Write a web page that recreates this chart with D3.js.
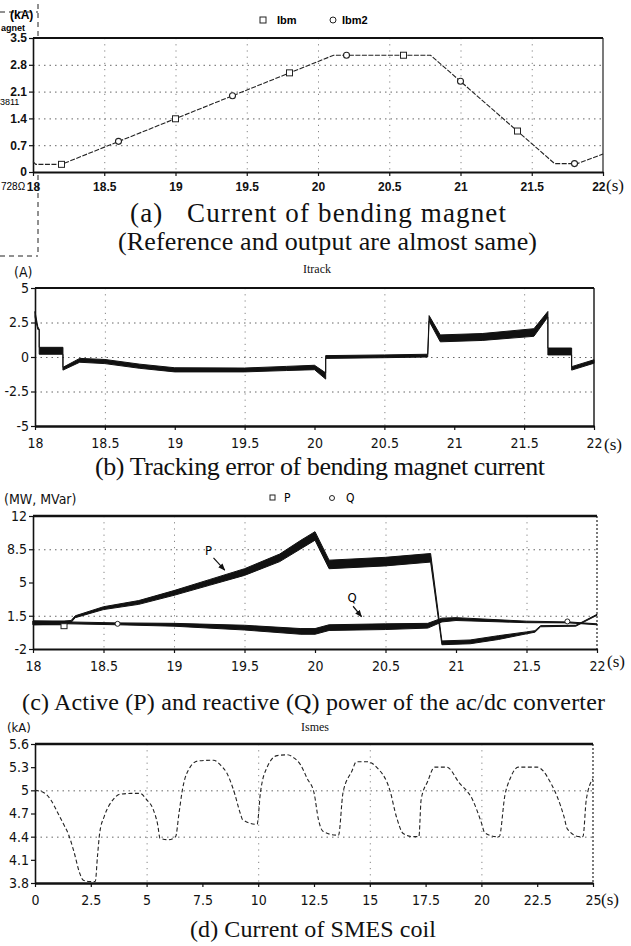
<!DOCTYPE html>
<html>
<head>
<meta charset="utf-8">
<script src="https://cdn.jsdelivr.net/npm/d3@7"></script>
<style>
  html, body { margin: 0; padding: 0; background: #fff; }
  svg { display: block; }
</style>
</head>
<body>
<script>
// ---------------- DATA ----------------
// (a) Current of bending magnet (kA)
const ibmT   = [18.0, 18.02, 18.2, 20.11, 20.79, 21.66, 21.82, 22.0];
const ibmV   = [0.27, 0.2, 0.2, 3.05, 3.05, 0.22, 0.22, 0.47];
const ibmSquareT = [18.2, 19.0, 19.8, 20.6, 21.4];
const ibmSquareV = [0.2, 1.39, 2.59, 3.05, 1.07];
const ibm2CircleT = [18.6, 19.4, 20.2, 21.0, 21.8];
const ibm2CircleV = [0.8, 1.99, 3.05, 2.37, 0.22];
const aXTicks = [18, 18.5, 19, 19.5, 20, 20.5, 21, 21.5, 22];
const aYTicks = [0, 0.7, 1.4, 2.1, 2.8, 3.5];

// (b) Tracking error Itrack (A): band lower / upper
const itrT  = [18.0, 18.02, 18.03, 18.03, 18.2, 18.2, 18.32, 18.5, 18.75, 19.0, 19.5, 19.8, 20.0, 20.08, 20.08, 20.5, 20.81, 20.82, 20.9, 21.2, 21.57, 21.67, 21.67, 21.84, 21.84, 22.0];
const itrHi = [3.3, 2.2, 2.0, 0.7, 0.7, -0.75, -0.1, -0.18, -0.52, -0.78, -0.8, -0.68, -0.6, -1.15, 0.1, 0.15, 0.2, 3.0, 1.6, 1.7, 2.05, 3.3, 0.65, 0.65, -0.7, -0.2];
const itrLo = [2.9, 2.0, 2.0, 0.2, 0.2, -0.95, -0.38, -0.48, -0.82, -1.08, -1.08, -0.98, -0.92, -1.6, -0.1, -0.05, 0.0, 2.6, 1.1, 1.2, 1.5, 2.9, 0.15, 0.15, -0.95, -0.45];
const bXTicks = [18, 18.5, 19, 19.5, 20, 20.5, 21, 21.5, 22];
const bYTicks = [-5, -2.5, 0, 2.5, 5];

// (c) Active (P) and reactive (Q) power (MW, MVar): centre and half-width of band
const pT    = [18.0, 18.22, 18.27, 18.3, 18.5, 18.75, 19.0, 19.25, 19.5, 19.75, 19.9, 20.0, 20.1, 20.5, 20.82, 20.9, 21.1, 21.3, 21.5, 21.56, 21.6, 21.85, 22.0];
const pMid  = [0.75, 0.75, 0.9, 1.4, 2.3, 2.9, 3.9, 5.0, 6.1, 7.6, 9.0, 9.9, 6.9, 7.2, 7.6, -1.35, -1.25, -0.8, -0.3, -0.15, 0.4, 0.45, 1.6];
const pHalf = [0.2, 0.2, 0.1, 0.1, 0.15, 0.2, 0.25, 0.3, 0.35, 0.4, 0.45, 0.45, 0.45, 0.45, 0.45, 0.2, 0.2, 0.2, 0.1, 0.08, 0.06, 0.05, 0.05];
const qT    = [18.0, 18.25, 18.6, 19.0, 19.5, 19.9, 20.0, 20.1, 20.5, 20.8, 20.9, 21.0, 21.5, 21.8, 22.0];
const qMid  = [0.75, 0.75, 0.65, 0.55, 0.25, -0.15, -0.15, 0.25, 0.35, 0.45, 1.05, 1.15, 0.85, 0.8, 0.6];
const qHalf = [0.2, 0.1, 0.1, 0.15, 0.25, 0.3, 0.3, 0.3, 0.3, 0.25, 0.2, 0.15, 0.08, 0.05, 0.05];
const cXTicks = [18, 18.5, 19, 19.5, 20, 20.5, 21, 21.5, 22];
const cYTicks = [-2, 1.5, 5, 8.5, 12];

// (d) Current of SMES coil Ismes (kA)
const smesT = [0, 0.4, 0.7, 1.0, 1.3, 1.5, 1.75, 2.0, 2.15, 2.4, 2.7, 2.8, 2.9, 3.1, 3.5, 3.8, 4.3, 4.7, 5.0, 5.3, 5.5, 5.6, 6.0, 6.3, 6.45, 6.6, 6.95, 7.3, 8.0, 8.3, 8.6, 8.9, 9.2, 9.3, 9.95, 10.1, 10.4, 10.85, 11.3, 11.6, 11.9, 12.2, 12.5, 12.7, 12.9, 13.5, 13.6, 13.8, 14.2, 14.4, 14.9, 15.3, 15.9, 16.2, 16.5, 16.95, 17.2, 17.3, 17.6, 17.9, 18.45, 19.0, 19.6, 20.0, 20.15, 20.7, 20.8, 21.05, 21.3, 21.65, 22.5, 23.1, 23.7, 23.85, 24.4, 24.55, 24.7, 25.0];
const smesV = [5.0, 4.97, 4.88, 4.72, 4.55, 4.43, 4.2, 3.93, 3.84, 3.82, 3.82, 4.15, 4.45, 4.66, 4.88, 4.95, 4.96, 4.96, 4.88, 4.75, 4.55, 4.38, 4.36, 4.4, 4.7, 5.0, 5.3, 5.38, 5.39, 5.33, 5.22, 5.0, 4.7, 4.62, 4.56, 4.97, 5.3, 5.45, 5.46, 5.42, 5.33, 5.15, 4.97, 4.62, 4.47, 4.42, 4.42, 4.97, 5.25, 5.37, 5.37, 5.3, 5.0, 4.65, 4.44, 4.4, 4.4, 4.88, 5.12, 5.3, 5.3, 5.1, 4.88, 4.58, 4.45, 4.4, 4.4, 4.93, 5.16, 5.3, 5.3, 5.1, 4.66, 4.5, 4.4, 4.4, 4.88, 5.15];
const dXTicks = [0, 2.5, 5, 7.5, 10, 12.5, 15, 17.5, 20, 22.5, 25];
const dYTicks = [3.8, 4.1, 4.4, 4.7, 5, 5.3, 5.6];

// ---------------- DRAW ----------------
const W = 631, H = 946;
const svg = d3.select("body").append("svg").attr("width", W).attr("height", H)
  .style("background", "#fff");

const SERIF = "'Liberation Serif','Times New Roman',serif";
const ARIALB = "'Liberation Sans',Arial,sans-serif";
const NARROW = "'Liberation Sans Narrow','DejaVu Sans Condensed','Arial Narrow',sans-serif";

function caption(x, y, size, len, txt) {
  svg.append("text").attr("x", x).attr("y", y).attr("font-family", SERIF)
    .attr("font-size", size).attr("fill", "#111").style("white-space", "pre")
    .attr("textLength", len).attr("lengthAdjust", "spacing").text(txt);
}

function drawPanel(p) {
  const g = svg.append("g");
  const x = d3.scaleLinear().domain(p.xDomain).range([p.left, p.right]);
  const y = d3.scaleLinear().domain(p.yDomain).range([p.bottom, p.top]);
  g.append("rect").attr("x", p.left).attr("y", p.top)
    .attr("width", p.right - p.left).attr("height", p.bottom - p.top).attr("fill", "#fff");
  g.selectAll(null).data(p.hGrid).join("line")
    .attr("x1", p.left).attr("x2", p.right)
    .attr("y1", d => y(d) + 0.5).attr("y2", d => y(d) + 0.5)
    .attr("stroke", "#555").attr("stroke-width", 0.9).attr("stroke-dasharray", "1.5,4");
  g.selectAll(null).data(p.vGrid).join("line")
    .attr("y1", p.top).attr("y2", p.bottom)
    .attr("x1", d => x(d) + 0.5).attr("x2", d => x(d) + 0.5)
    .attr("stroke", "#777").attr("stroke-width", 0.9).attr("stroke-dasharray", "1.2,5");
  g.append("line").attr("x1", p.right).attr("x2", p.right).attr("y1", p.top).attr("y2", p.bottom)
    .attr("stroke", "#222").attr("stroke-width", p.rightW)
    .attr("stroke-dasharray", p.rightDash || null);
  g.append("line").attr("x1", p.left).attr("x2", p.right).attr("y1", p.top).attr("y2", p.top)
    .attr("stroke", "#111").attr("stroke-width", p.topW);
  const ax = d3.axisBottom(x).tickValues(p.xTicks).tickSize(4).tickSizeOuter(0).tickPadding(p.xPad)
    .tickFormat(d => String(d));
  const gx = g.append("g").attr("transform", `translate(0,${p.bottom})`).call(ax);
  gx.select(".domain").attr("stroke", "#111").attr("stroke-width", p.bottomW);
  gx.selectAll(".tick line").attr("stroke", "#111").attr("stroke-width", 1.2);
  gx.selectAll(".tick text").attr("font-family", p.tickFont).attr("font-size", p.tickSize)
    .attr("font-weight", p.tickWeight).attr("fill", "#111");
  if (p.lastEnd) {
    gx.selectAll(".tick text").filter(d => d === p.xDomain[1]).attr("text-anchor", "end").attr("dx", 2);
  }
  const ay = d3.axisLeft(y).tickValues(p.yTicks).tickSize(4).tickSizeOuter(0).tickPadding(2)
    .tickFormat(d => String(d));
  const gy = g.append("g").attr("transform", `translate(${p.left},0)`).call(ay);
  gy.select(".domain").attr("stroke", "#111").attr("stroke-width", 1.6);
  gy.selectAll(".tick line").attr("stroke", "#111").attr("stroke-width", 1.2);
  gy.selectAll(".tick text").attr("font-family", p.tickFont).attr("font-size", p.tickSize)
    .attr("font-weight", p.tickWeight).attr("fill", "#111");
  g.append("text").attr("x", p.right + p.sDx).attr("y", p.bottom + p.sDy)
    .attr("font-family", SERIF).attr("font-size", 17).attr("fill", "#111").text("(s)");
  return { g, x, y };
}

// ----- Panel (a) -----
{
  const dash = "5,4";
  svg.append("line").attr("x1", 0).attr("x2", 38).attr("y1", 12).attr("y2", 12)
    .attr("stroke", "#222").attr("stroke-width", 1).attr("stroke-dasharray", dash);
  svg.append("line").attr("x1", 38).attr("x2", 38).attr("y1", 4).attr("y2", 256)
    .attr("stroke", "#222").attr("stroke-width", 1).attr("stroke-dasharray", dash);
  svg.append("line").attr("x1", 0).attr("x2", 38).attr("y1", 256).attr("y2", 256)
    .attr("stroke", "#222").attr("stroke-width", 1).attr("stroke-dasharray", dash);

  const P = drawPanel({
    xDomain: [18, 22], yDomain: [0, 3.5], left: 33, right: 603, top: 38, bottom: 172,
    hGrid: [0.7, 1.4, 2.1, 2.8], vGrid: [18.5, 19, 19.5, 20, 20.5, 21, 21.5],
    xTicks: aXTicks, yTicks: aYTicks, rightW: 1.2, topW: 2.2, bottomW: 2.2,
    tickFont: ARIALB, tickSize: 12, tickWeight: "bold", xPad: 6, sDx: 3, sDy: 19, lastEnd: true
  });
  const line = d3.line().x(d => P.x(d[0])).y(d => P.y(d[1]));
  P.g.append("path").datum(d3.zip(ibmT, ibmV)).attr("d", line)
    .attr("fill", "none").attr("stroke", "#222").attr("stroke-width", 1.1).attr("stroke-dasharray", "5,1.5");
  P.g.selectAll(null).data(d3.zip(ibmSquareT, ibmSquareV)).join("rect")
    .attr("x", d => P.x(d[0]) - 3).attr("y", d => P.y(d[1]) - 3).attr("width", 6).attr("height", 6)
    .attr("fill", "#fff").attr("stroke", "#222").attr("stroke-width", 1);
  P.g.selectAll(null).data(d3.zip(ibm2CircleT, ibm2CircleV)).join("circle")
    .attr("cx", d => P.x(d[0])).attr("cy", d => P.y(d[1])).attr("r", 3)
    .attr("fill", "#fff").attr("stroke", "#222").attr("stroke-width", 1.1);
  svg.append("rect").attr("x", 260).attr("y", 17).attr("width", 6).attr("height", 6)
    .attr("fill", "#fff").attr("stroke", "#222");
  svg.append("text").attr("x", 277).attr("y", 24).attr("font-family", ARIALB).attr("font-size", 11)
    .attr("font-weight", "bold").text("Ibm");
  svg.append("circle").attr("cx", 333).attr("cy", 20).attr("r", 3).attr("fill", "#fff").attr("stroke", "#222");
  svg.append("text").attr("x", 342).attr("y", 24).attr("font-family", ARIALB).attr("font-size", 11)
    .attr("font-weight", "bold").text("Ibm2");
  svg.append("text").attr("x", 10).attr("y", 19).attr("font-family", ARIALB).attr("font-size", 12)
    .attr("font-weight", "bold").text("(kA)");
  svg.append("text").attr("x", 1).attr("y", 31).attr("font-family", ARIALB).attr("font-size", 9)
    .attr("font-weight", "bold").text("agnet");
  svg.append("text").attr("x", 0).attr("y", 105).attr("font-family", ARIALB).attr("font-size", 9)
    .text("3811");
  svg.append("text").attr("x", 1).attr("y", 190).attr("font-family", ARIALB)
    .attr("font-size", 10).text("728Ω");
  caption(130, 222, 27, 376, "(a)   Current of bending magnet");
  caption(118, 250, 26, 419, "(Reference and output are almost same)");
}

// ----- Panel (b) -----
{
  const P = drawPanel({
    xDomain: [18, 22], yDomain: [-5, 5], left: 35, right: 594, top: 288, bottom: 426,
    hGrid: [-2.5, 0, 2.5], vGrid: [18.5, 19.5, 20.5, 21.5],
    xTicks: bXTicks, yTicks: bYTicks, rightW: 1.5, topW: 2.2, bottomW: 2.5,
    tickFont: NARROW, tickSize: 14, tickWeight: "normal", xPad: 8, sDx: 10, sDy: 24
  });
  const area = d3.area().x(d => P.x(d[0])).y0(d => P.y(d[2])).y1(d => P.y(d[1]));
  P.g.append("path").datum(d3.zip(itrT, itrHi, itrLo)).attr("d", area)
    .attr("fill", "#111").attr("stroke", "#111").attr("stroke-width", 1).attr("stroke-linejoin", "round");
  svg.append("text").attr("x", 14).attr("y", 277).attr("font-family", NARROW).attr("font-size", 14)
    .attr("fill", "#111").text("(A)");
  svg.append("text").attr("x", 303).attr("y", 273).attr("font-family", SERIF).attr("font-size", 12)
    .attr("fill", "#111").text("Itrack");
  caption(95, 475, 26, 450, "(b) Tracking error of bending magnet current");
}

// ----- Panel (c) -----
{
  const P = drawPanel({
    xDomain: [18, 22], yDomain: [-2, 12], left: 33, right: 597, top: 516, bottom: 649,
    hGrid: [1.5, 8.5], vGrid: [18.5, 19, 19.5, 20.5, 21.5],
    xTicks: cXTicks, yTicks: cYTicks, rightW: 1.2, rightDash: "2,2", topW: 2.4, bottomW: 2.2,
    tickFont: NARROW, tickSize: 14, tickWeight: "normal", xPad: 8, sDx: 10, sDy: 18
  });
  const area = d3.area().x(d => P.x(d[0])).y0(d => P.y(d[1] - d[2])).y1(d => P.y(d[1] + d[2]));
  P.g.append("path").datum(d3.zip(qT, qMid, qHalf)).attr("d", area)
    .attr("fill", "#111").attr("stroke", "#111").attr("stroke-width", 1);
  P.g.append("path").datum(d3.zip(pT, pMid, pHalf)).attr("d", area)
    .attr("fill", "#111").attr("stroke", "#111").attr("stroke-width", 1);
  P.g.append("rect").attr("x", P.x(18.22) - 3).attr("y", P.y(0.35) - 3).attr("width", 6).attr("height", 5)
    .attr("fill", "#fff").attr("stroke", "#222");
  P.g.append("circle").attr("cx", P.x(18.6)).attr("cy", P.y(0.65)).attr("r", 2.5)
    .attr("fill", "#fff").attr("stroke", "#222");
  P.g.append("circle").attr("cx", P.x(21.79)).attr("cy", P.y(0.9)).attr("r", 2.5)
    .attr("fill", "#fff").attr("stroke", "#222");
  svg.append("defs").append("marker").attr("id", "ah").attr("viewBox", "0 0 10 10").attr("refX", 9).attr("refY", 5)
    .attr("markerWidth", 6).attr("markerHeight", 6).attr("orient", "auto")
    .append("path").attr("d", "M0,1 L10,5 L0,9 z").attr("fill", "#111");
  P.g.append("text").attr("x", P.x(19.22)).attr("y", P.y(7.9)).attr("font-family", NARROW).attr("font-size", 13).text("P");
  P.g.append("line").attr("x1", P.x(19.28)).attr("y1", P.y(7.6)).attr("x2", P.x(19.36)).attr("y2", P.y(6.3))
    .attr("stroke", "#111").attr("stroke-width", 1.2).attr("marker-end", "url(#ah)");
  P.g.append("text").attr("x", P.x(20.23)).attr("y", P.y(2.9)).attr("font-family", NARROW).attr("font-size", 13).text("Q");
  P.g.append("line").attr("x1", P.x(20.27)).attr("y1", P.y(2.5)).attr("x2", P.x(20.33)).attr("y2", P.y(1.4))
    .attr("stroke", "#111").attr("stroke-width", 1.2).attr("marker-end", "url(#ah)");
  svg.append("rect").attr("x", 270).attr("y", 495).attr("width", 5).attr("height", 5)
    .attr("fill", "#fff").attr("stroke", "#222");
  svg.append("text").attr("x", 284).attr("y", 502).attr("font-family", NARROW).attr("font-size", 12).text("P");
  svg.append("circle").attr("cx", 332).attr("cy", 498).attr("r", 2.5).attr("fill", "#fff").attr("stroke", "#222");
  svg.append("text").attr("x", 346).attr("y", 502).attr("font-family", NARROW).attr("font-size", 12).text("Q");
  svg.append("text").attr("x", 4).attr("y", 504).attr("font-family", NARROW).attr("font-size", 14)
    .attr("fill", "#111").text("(MW, MVar)");
  caption(22, 710, 24, 583, "(c) Active (P) and reactive (Q) power of the ac/dc converter");
}

// ----- Panel (d) -----
{
  const P = drawPanel({
    xDomain: [0, 25], yDomain: [3.8, 5.6], left: 35, right: 593, top: 744, bottom: 883,
    hGrid: [4.4, 5], vGrid: [5, 10, 15, 20],
    xTicks: dXTicks, yTicks: dYTicks, rightW: 1.2, rightDash: "2,2", topW: 2.4, bottomW: 2.5,
    tickFont: NARROW, tickSize: 14, tickWeight: "normal", xPad: 8, sDx: 8, sDy: 22
  });
  const line = d3.line().x(d => P.x(d[0])).y(d => P.y(d[1])).curve(d3.curveMonotoneX);
  P.g.append("path").datum(d3.zip(smesT, smesV)).attr("d", line)
    .attr("fill", "none").attr("stroke", "#222").attr("stroke-width", 1.1).attr("stroke-dasharray", "4,2.5");
  svg.append("text").attr("x", 7).attr("y", 732).attr("font-family", NARROW).attr("font-size", 13)
    .attr("fill", "#111").text("(kA)");
  svg.append("text").attr("x", 301).attr("y", 731).attr("font-family", SERIF).attr("font-size", 12)
    .attr("fill", "#111").text("Ismes");
  caption(190, 937, 24, 246, "(d) Current of SMES coil");
}
</script>
</body>
</html>
